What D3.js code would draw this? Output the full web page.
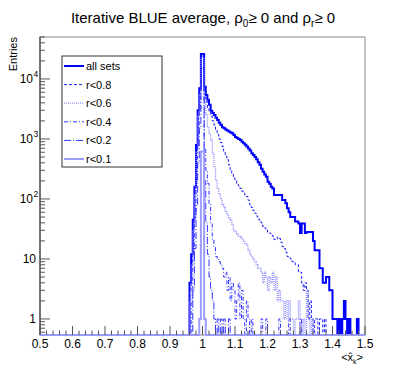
<!DOCTYPE html>
<html>
<head>
<meta charset="utf-8">
<script src="https://cdn.jsdelivr.net/npm/d3@7"></script>
<style>
  body { margin: 0; background: #fff; }
  text { font-family: "Liberation Sans", Arial, sans-serif; }
</style>
</head>
<body>
<script>
// histogram binning (0.005 wide bins over 0.5 .. 1.5)
var xMin = 0.5, xMax = 1.5, binWidth = 0.005;

var xTicks = [0.5, 0.6, 0.7, 0.8, 0.9, 1.0, 1.1, 1.2, 1.3, 1.4, 1.5];
var xTickLabels = ["0.5", "0.6", "0.7", "0.8", "0.9", "1", "1.1", "1.2", "1.3", "1.4", "1.5"];
var yTicks = [1, 10, 100, 1000, 10000];
var yTickBase = ["1", "10", "10", "10", "10"];
var yTickExp = ["", "", "2", "3", "4"];

var seriesNames = ["all sets", "r<0.8", "r<0.6", "r<0.4", "r<0.2", "r<0.1"];
// first bin low edge of each series
var seriesStart = [0.960, 0.960, 0.960, 0.965, 0.970, 0.990];

var allSets = [4, 12, 45, 160, 790, 3000, 7000, 26000, 26000, 7400,
  5400, 4500, 3700, 2950, 2700, 2500, 2250, 2060, 1870, 1700,
  1560, 1500, 1440, 1380, 1330, 1280, 1240, 1160, 1080, 1040,
  1000, 960, 900, 850, 800, 750, 690, 640, 580, 540,
  500, 460, 410, 370, 320, 285, 255, 235, 194, 180,
  160, 150, 116, 116, 116, 116, 116, 96, 96, 85,
  70, 60, 50, 50, 50, 42, 42, 39, 27, 39,
  39, 27, 28, 28, 28, 28, 20, 14, 14, 14,
  7, 7, 4, 4, 5, 5, 3, 3, 1, 1,
  1, 0, 1, 0, 1, 2, 1, 0, 1, 0,
  0, 0, 0, 1];

var r08 = [3, 10, 40, 150, 700, 2800, 6000, 24000, 24000, 6000,
  4200, 3300, 2800, 2400, 2000, 1700, 1450, 1200, 1000, 870,
  750, 620, 520, 450, 370, 300, 260, 225, 200, 180,
  165, 150, 135, 125, 116, 110, 95, 80, 72, 64,
  58, 52, 46, 44, 40, 35, 33, 31, 28, 27,
  26, 24, 21, 21, 23, 22, 19, 16, 15, 13,
  11, 11, 10, 9, 9, 8, 8, 6, 6, 4,
  3, 4, 3, 1, 2, 1, 0, 1, 1, 0,
  1, 1, 0, 1];

var r06 = [2, 8, 30, 120, 600, 2500, 5500, 22000, 22000, 4000,
  2600, 1600, 1200, 960, 580, 345, 206, 150, 120, 100,
  80, 72, 62, 55, 48, 45, 38, 30, 28, 26,
  24, 23, 22, 20, 18, 17, 14, 12, 11, 10,
  9, 8, 7, 7, 6, 4, 6, 5, 3, 5,
  4, 6, 3, 5, 2, 3, 2, 2, 1, 2,
  1, 2, 1, 1, 0, 1, 1, 2, 1, 0,
  1, 0, 3, 1, 0, 1];

var r04 = [2, 10, 50, 250, 1200, 3000, 15000, 15000, 700, 300,
  181, 84, 39, 21, 16, 11, 10, 9, 8, 7,
  5, 6, 3, 5, 2, 4, 3, 1, 2, 4,
  1, 3, 1, 0, 2, 1, 0, 1, 0, 0,
  0, 0, 0, 1, 0, 0, 1, 0, 0, 0,
  0, 0, 0, 0, 1, 0, 0, 0, 0, 0,
  1, 0, 0, 0, 0, 0, 0, 1];

var r02 = [3, 15, 80, 400, 1500, 9000, 9000, 200, 40, 12,
  5, 3, 2, 1, 0, 1, 0, 1, 0, 1,
  0, 0, 1];

var r01 = [1, 620, 620, 1];

var seriesData = [allSets, r08, r06, r04, r02, r01];

var colors = ["#0000ff", "#1a1aff", "#8c8cff", "#3030ff", "#3030ff", "#9c9cff"];
var widths = [2, 1, 1.3, 1, 1, 2];
var dashes = [null, "3,2", "1,1", "4,2,1,2", "7,2,1,2", null];

var W = 407, H = 374;
var padL = 40, padR = 365, padT = 37, padB = 335;
var yMin = 0.54, yMax = 50000;

var svg = d3.select("body").append("svg")
  .attr("width", W).attr("height", H);

var x = d3.scaleLinear().domain([xMin, xMax]).range([padL, padR]);
var y = d3.scaleLog().domain([yMin, yMax]).range([padB, padT]);

// title
var title = svg.append("text")
  .attr("x", 203).attr("y", 23)
  .attr("text-anchor", "middle")
  .style("font-size", "15px");
title.append("tspan").text("Iterative BLUE average, \u03c1");
title.append("tspan").attr("dy", 4).style("font-size", "10px").text("0");
title.append("tspan").attr("dy", -4).text("\u2265 0 and \u03c1");
title.append("tspan").attr("dy", 4).style("font-size", "10px").text("r");
title.append("tspan").attr("dy", -4).text("\u2265 0");

// frame
svg.append("rect")
  .attr("x", padL).attr("y", padT)
  .attr("width", padR - padL).attr("height", padB - padT)
  .attr("fill", "none").attr("stroke", "#888").attr("stroke-width", 1);

// histograms
var nBins = Math.round((xMax - xMin) / binWidth);
var line = d3.line()
  .x(function(d){ return x(d[0]); })
  .y(function(d){ return y(Math.max(d[1], yMin)); })
  .curve(d3.curveStepAfter);

seriesData.forEach(function(vals, s){
  var first = Math.round((seriesStart[s] - xMin) / binWidth);
  var pts = [];
  for (var i = 0; i < nBins; i++) {
    var k = i - first;
    var c = (k >= 0 && k < vals.length) ? vals[k] : 0;
    pts.push([xMin + i * binWidth, c]);
  }
  pts.push([xMax, pts[pts.length - 1][1]]);
  svg.append("path")
    .attr("d", line(pts))
    .attr("fill", "none")
    .attr("stroke", colors[s])
    .attr("stroke-width", widths[s])
    .attr("stroke-dasharray", dashes[s]);
});

// axes lines
svg.append("line").attr("x1", padL).attr("x2", padL).attr("y1", padT).attr("y2", padB)
  .attr("stroke", "#222");

// x ticks (inside)
var xMinor = d3.range(0, 51).map(function(i){ return xMin + i * 0.02; });
svg.selectAll(".xminor").data(xMinor).enter().append("line")
  .attr("x1", function(d){ return x(d); }).attr("x2", function(d){ return x(d); })
  .attr("y1", padB).attr("y2", function(d, i){ return i % 5 === 0 ? padB - 9 : padB - 4.5; })
  .attr("stroke", "#555");

svg.selectAll(".xlab").data(xTicks).enter().append("text")
  .attr("x", function(d){ return x(d); })
  .attr("y", 348)
  .attr("text-anchor", "middle")
  .style("font-size", "12px")
  .text(function(d, i){ return xTickLabels[i]; });

// y ticks
var yMinor = [];
[0.1, 1, 10, 100, 1000, 10000].forEach(function(dec){
  for (var m = 2; m <= 9; m++) {
    var v = dec * m;
    if (v >= yMin && v <= yMax) yMinor.push(v);
  }
});
svg.selectAll(".yminor").data(yMinor).enter().append("line")
  .attr("x1", padL).attr("x2", padL + 5)
  .attr("y1", function(d){ return y(d); }).attr("y2", function(d){ return y(d); })
  .attr("stroke", "#555");
svg.selectAll(".ymajor").data(yTicks).enter().append("line")
  .attr("x1", padL).attr("x2", padL + 10)
  .attr("y1", function(d){ return y(d); }).attr("y2", function(d){ return y(d); })
  .attr("stroke", "#555");

svg.selectAll(".ylab").data(yTicks).enter().append("text")
  .attr("x", function(d, i){ return yTickExp[i] ? 33 : 36; })
  .attr("y", function(d){ return y(d) + 4.5; })
  .attr("text-anchor", "end")
  .style("font-size", "12px")
  .text(function(d, i){ return yTickBase[i]; });
svg.selectAll(".yexp").data(yTicks).enter().append("text")
  .attr("x", 33.5)
  .attr("y", function(d){ return y(d) - 2; })
  .style("font-size", "8.5px")
  .text(function(d, i){ return yTickExp[i]; });

// axis titles
svg.append("text")
  .attr("transform", "translate(17,37) rotate(-90)")
  .attr("text-anchor", "end")
  .style("font-size", "11px")
  .text("Entries");

var xt = svg.append("text")
  .attr("x", 363).attr("y", 361)
  .attr("text-anchor", "end")
  .style("font-size", "11px");
xt.append("tspan").text("<x\u0302");
xt.append("tspan").attr("dy", 3).style("font-size", "7px").text("k");
xt.append("tspan").attr("dy", -3).text(">");

// legend
var lg = svg.append("g");
lg.append("rect")
  .attr("x", 62).attr("y", 56).attr("width", 100).attr("height", 111)
  .attr("fill", "#fff").attr("stroke", "#333").attr("stroke-width", 1);
var rowY = d3.scaleLinear().domain([0, 5]).range([66, 159]);
seriesNames.forEach(function(name, s){
  lg.append("line")
    .attr("x1", 64).attr("x2", 84)
    .attr("y1", rowY(s)).attr("y2", rowY(s))
    .attr("stroke", colors[s])
    .attr("stroke-width", widths[s])
    .attr("stroke-dasharray", dashes[s]);
  lg.append("text")
    .attr("x", 86).attr("y", rowY(s) + 4)
    .style("font-size", "11px")
    .text(name);
});
</script>
</body>
</html>
